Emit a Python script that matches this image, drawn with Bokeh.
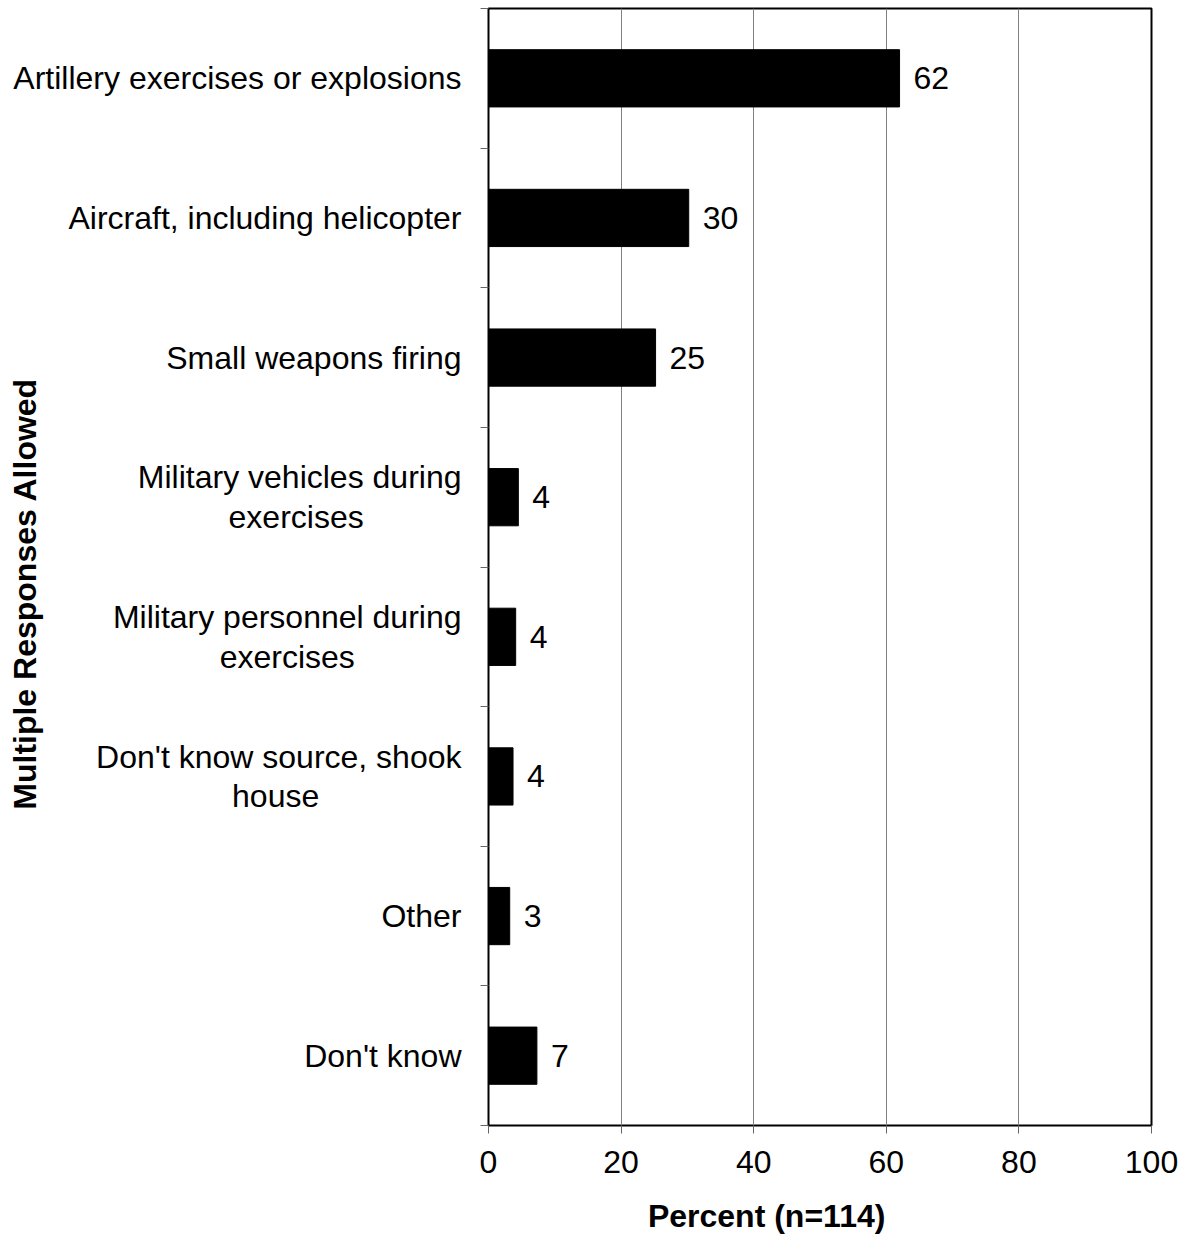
import numpy as np
from bokeh.plotting import figure
from bokeh.models import Range1d, FixedTicker, ColumnDataSource
from bokeh.core.properties import value
from bokeh.embed import file_html
from bokeh.resources import INLINE

NB = "\u00a0"
categories = [
    "Artillery exercises or explosions",
    "Aircraft, including helicopter",
    "Small weapons firing",
    "Military vehicles during\nexercises" + NB * 11,
    "Military personnel during\nexercises" + NB * 12,
    "Don't know source, shook\nhouse" + NB * 16,
    "Other",
    "Don't know",
]
percents = [62.0, 30.2, 25.2, 4.5, 4.1, 3.7, 3.2, 7.3]
value_labels = ["62", "30", "25", "4", "4", "4", "3", "7"]
x_ticks = [0, 20, 40, 60, 80, 100]
x_title = "Percent (n=114)"
y_title = "Multiple Responses Allowed"

FONT = "Liberation Sans"
n = len(categories)
ypos = [n - 1 - i for i in range(n)]

p = figure(width=1185, height=1236, output_backend="svg", toolbar_location=None,
           x_range=Range1d(0, 100), y_range=Range1d(-0.5, n - 0.5),
           min_border_left=488, min_border_right=34, min_border_top=8, min_border_bottom=111)

src = ColumnDataSource(dict(y=ypos, v=percents, t=value_labels))
p.hbar(y="y", right="v", left=0, height=0.41, source=src, fill_color="black", line_color="black")
p.text(x="v", y="y", text="t", source=src, x_offset=14, text_baseline="middle", text_align="left",
       text_font=value(FONT), text_font_size="32px", text_color="black")

p.outline_line_color = "black"
p.outline_line_width = 2

# x axis
xa = p.xaxis[0]
xa.ticker = FixedTicker(ticks=x_ticks)
xa.axis_line_color = None
xa.major_tick_out = 8
xa.major_tick_in = 0
xa.major_tick_line_color = "#666666"
xa.minor_tick_line_color = None
xa.major_label_standoff = 17
xa.major_label_text_font = FONT
xa.major_label_text_font_size = "32px"
xa.major_label_text_color = "black"
xa.axis_label = x_title + NB * 12
xa.axis_label_standoff = 22
xa.axis_label_text_font = FONT
xa.axis_label_text_font_size = "32px"
xa.axis_label_text_font_style = "bold"
xa.axis_label_text_color = "black"

# y axis
ya = p.yaxis[0]
ya.ticker = FixedTicker(ticks=ypos, minor_ticks=[i - 0.5 for i in range(n + 1)])
ya.major_label_overrides = {ypos[i]: categories[i] for i in range(n)}
ya.axis_line_color = None
ya.major_tick_out = 0
ya.major_tick_in = 0
ya.major_tick_line_color = None
ya.minor_tick_out = 8
ya.minor_tick_in = 0
ya.minor_tick_line_color = "#666666"
ya.major_label_standoff = 19
ya.major_label_text_font = FONT
ya.major_label_text_font_size = "32px"
ya.major_label_text_color = "black"
ya.major_label_text_line_height = 1.1
ya.axis_label = y_title + NB * 6
ya.axis_label_standoff = -33
ya.axis_label_text_font = FONT
ya.axis_label_text_font_size = "32px"
ya.axis_label_text_font_style = "bold"
ya.axis_label_text_color = "black"

p.xgrid.ticker = FixedTicker(ticks=x_ticks)
p.xgrid.grid_line_color = "#808080"
p.xgrid.grid_line_width = 1
p.ygrid.grid_line_color = None

open("out.html", "w").write(file_html(p, INLINE))
